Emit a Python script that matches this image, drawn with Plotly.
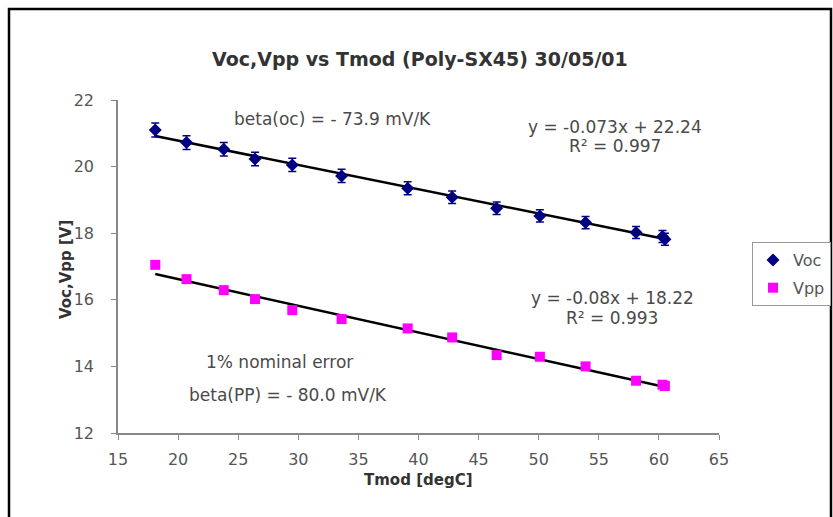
import plotly.graph_objects as go

# Data
tmod = [18.1, 20.7, 23.8, 26.4, 29.5, 33.6, 39.1, 42.8, 46.5, 50.1, 53.9, 58.1, 60.3, 60.5]
voc = [21.1, 20.72, 20.52, 20.23, 20.05, 19.72, 19.35, 19.08, 18.75, 18.52, 18.32, 18.02, 17.9, 17.82]
vpp = [17.05, 16.62, 16.29, 16.02, 15.69, 15.42, 15.14, 14.87, 14.34, 14.29, 14.0, 13.57, 13.45, 13.41]
err_pct = 0.01
fit_voc = (-0.073, 22.24)
fit_vpp = (-0.08, 18.22)
x_ticks = [15, 20, 25, 30, 35, 40, 45, 50, 55, 60, 65]
y_ticks = [12, 14, 16, 18, 20, 22]

W, H = 833, 517
L, R, T, B = 118, 719, 100, 433  # plot area in pixels
FONT = "DejaVu Sans, Verdana, sans-serif"


def px(x):
    return (x - L) / (R - L)


def py(y):
    return (B - y) / (B - T)


xr = [min(tmod), max(tmod)]
fig = go.Figure()
fig.add_trace(go.Scatter(x=xr, y=[fit_voc[0] * v + fit_voc[1] for v in xr], mode="lines",
                         line=dict(color="black", width=2.5), showlegend=False, hoverinfo="skip"))
fig.add_trace(go.Scatter(x=xr, y=[fit_vpp[0] * v + fit_vpp[1] for v in xr], mode="lines",
                         line=dict(color="black", width=2.5), showlegend=False, hoverinfo="skip"))
fig.add_trace(go.Scatter(x=tmod, y=voc, mode="markers", name="Voc", legendgroup="a",
                         marker=dict(symbol="diamond", size=10, color="#000080"),
                         error_y=dict(type="percent", value=err_pct * 100, color="#000080",
                                      thickness=1.5, width=4)))
fig.add_trace(go.Scatter(x=tmod, y=vpp, mode="markers", name="Vpp", legendgroup="b",
                         marker=dict(symbol="square", size=10, color="#FF00FF")))

txt = "#4a4a4a"
ann = [
    ("beta(oc) = - 73.9 mV/K", 332, 119),
    ("y = -0.073x + 22.24", 615, 127),
    ("R² = 0.997", 615, 146),
    ("y = -0.08x + 18.22", 612, 298),
    ("R² = 0.993", 612, 318),
    ("1% nominal error", 279, 362),
    ("beta(PP) = - 80.0 mV/K", 288, 395),
]
for t, x, y in ann:
    fig.add_annotation(text=t, x=px(x), y=py(y), xref="paper", yref="paper", showarrow=False,
                       font=dict(family=FONT, size=17, color=txt),
                       xanchor="center", yanchor="middle")

fig.add_annotation(text="<b>Voc,Vpp vs Tmod (Poly-SX45) 30/05/01</b>", x=px(420), y=py(46),
                   xref="paper", yref="paper", showarrow=False,
                   font=dict(family=FONT, size=19, color="#333333"))
fig.add_annotation(text="<b>Tmod [degC]</b>", x=px(418), y=py(491), xref="paper", yref="paper",
                   showarrow=False, font=dict(family=FONT, size=15, color="#333333"))
fig.add_annotation(text="<b>Voc,Vpp [V]</b>", x=px(55), y=py(270), xref="paper", yref="paper",
                   showarrow=False, textangle=-90,
                   font=dict(family=FONT, size=15, color="#333333"))

fig.add_shape(type="rect", xref="paper", yref="paper", x0=px(9), x1=px(831), y0=py(540), y1=py(9),
              line=dict(color="black", width=2.5))

axis_common = dict(showgrid=False, zeroline=False, showline=True, linecolor="#888888", linewidth=1.5,
                   ticks="outside", ticklen=5, tickcolor="#888888",
                   tickfont=dict(family=FONT, size=16, color="#555555"))
fig.update_xaxes(range=[15, 65], tickvals=x_ticks, ticklabelstandoff=6, **axis_common)
fig.update_yaxes(range=[12, 22], tickvals=y_ticks, ticklabelstandoff=14, **axis_common)

fig.update_layout(
    width=W, height=H,
    margin=dict(l=L, r=W - R, t=T, b=H - B, autoexpand=False),
    paper_bgcolor="white", plot_bgcolor="white",
    legend=dict(x=px(752), y=py(242), xanchor="left", yanchor="top",
                bordercolor="#999999", borderwidth=1, bgcolor="white",
                font=dict(family=FONT, size=16, color="#555555"),
                tracegroupgap=4, itemwidth=30),
)

fig.write_html("out.html")
